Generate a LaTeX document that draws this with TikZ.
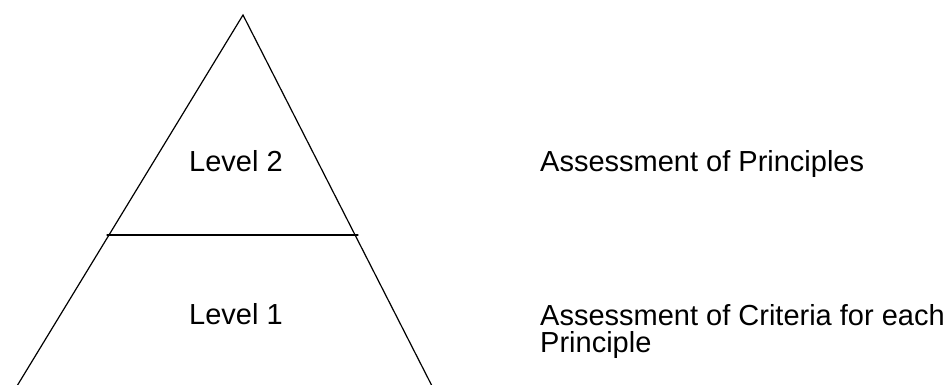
\documentclass[tikz,border=0pt]{standalone}
\usepackage{fontspec}
\setmainfont{Liberation Sans}
\begin{document}
\begin{tikzpicture}[x=1pt,y=-1pt,
  edge/.style={line width=1.2pt,line cap=round,line join=miter},
  label/.style={inner sep=0pt,anchor=base west,font=\fontsize{29}{27}\selectfont,align=left}]
  \useasboundingbox (0,0) rectangle (951,385);
  % pyramid outline
  \coordinate (apex) at (243,15);
  \coordinate (bl) at (17,386);
  \coordinate (br) at (432,386);
  \coordinate (hl) at (107,235);
  \coordinate (hr) at (358,235);
  \draw[edge] (bl) -- (apex) -- (br);
  \draw[edge] (hl) -- (hr);
  % level names inside the pyramid
  \node[label] (lvtwo) at (189,171.5) {Level 2};
  \node[label] (lvone) at (189,324.5) {Level 1};
  % what is assessed at each level (base anchor sits on the last line)
  \node[label] (asstwo) at (540,171.5) {Assessment of Principles};
  \node[label] (assone) at (540,352) {Assessment of Criteria for each\\Principle};
\end{tikzpicture}
\end{document}
